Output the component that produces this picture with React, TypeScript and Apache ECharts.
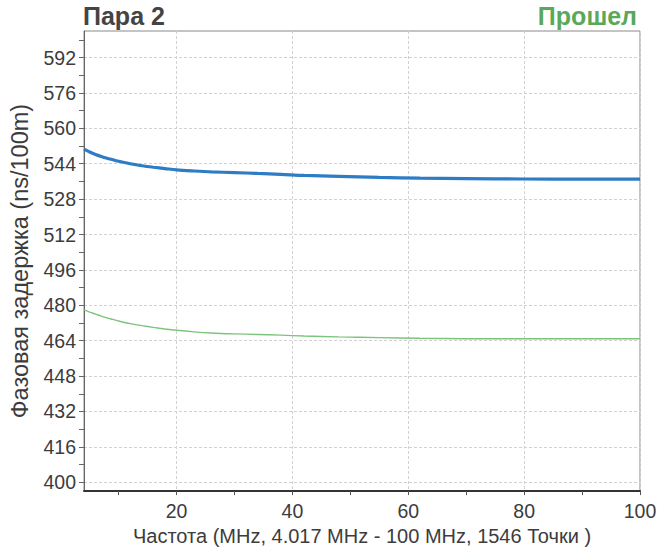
import React, { useEffect, useRef } from "react";
import * as echarts from "echarts";

const frequencies = [4.017, 5, 6, 7, 8, 9, 10, 12, 14, 16, 18, 20, 23, 26, 30, 34, 38, 42, 48, 55, 62, 70, 80, 90, 100];
const delayMeasured = [550.6, 549.3, 548.2, 547.3, 546.5, 545.8, 545.1, 544.0, 543.1, 542.4, 541.8, 541.2, 540.7, 540.3, 540.0, 539.6, 539.2, 538.7, 538.3, 537.8, 537.5, 537.3, 537.1, 537.0, 537.0];
const delayLimit = [477.9, 476.9, 476.0, 475.1, 474.3, 473.6, 472.9, 471.7, 470.8, 470.0, 469.3, 468.7, 468.0, 467.5, 467.1, 466.8, 466.5, 466.1, 465.7, 465.4, 465.1, 464.9, 464.9, 464.9, 464.9];

const yLabelValues = [400, 416, 432, 448, 464, 480, 496, 512, 528, 544, 560, 576, 592];
const yTickValues = [400, 408, 416, 424, 432, 440, 448, 456, 464, 472, 480, 488, 496, 504, 512, 520, 528, 536, 544, 552, 560, 568, 576, 584, 592, 600];
const xLabelValues = [20, 40, 60, 80, 100];
const xTickValues = [10, 20, 30, 40, 50, 60, 70, 80, 90, 100];

const titleText = "Пара 2";
const statusText = "Прошел";
const xName = "Частота (MHz, 4.017 MHz - 100 MHz, 1546 Точки )";
const yName = "Фазовая задержка (ns/100m)";

const FONT = "Liberation Sans, Arial, sans-serif";
const TXT = "#3c3c3c";

export default function App() {
  const ref = useRef<HTMLDivElement>(null);
  useEffect(() => {
    if (!ref.current) return;
    const chart = echarts.init(ref.current, undefined, { renderer: "svg" });
    const gridLine = { show: true, lineStyle: { color: "#d2d2d2", type: [3, 2] as any, width: 1 } };
    const xMin = 4.017, xMax = 100, yMin = 396, yMax = 604;
    chart.setOption({
      animation: false,
      backgroundColor: "#ffffff",
      textStyle: { fontFamily: FONT },
      graphic: [
        { type: "text", left: 83, top: 3, style: { text: titleText, fontSize: 25, fontWeight: "bold", fill: "#444444", fontFamily: FONT } },
        { type: "text", right: 31, top: 3, style: { text: statusText, fontSize: 25, fontWeight: "bold", fill: "#5aa85a", fontFamily: FONT } },
      ],
      grid: { left: 84, right: 28, top: 31, bottom: 55, show: true, borderColor: "#8a8a8a", borderWidth: 1, containLabel: false },
      xAxis: [
        {
          type: "value", min: xMin, max: xMax, position: "bottom",
          axisLine: { show: true, onZero: false, lineStyle: { color: "#333333", width: 2 } },
          axisTick: { show: true, length: 4, customValues: xTickValues, lineStyle: { color: "#555555" } },
          axisLabel: { show: false },
          splitLine: { show: false },
        },
        {
          type: "value", min: xMin, max: xMax, position: "bottom", offset: 0,
          name: xName, nameLocation: "middle", nameGap: 32,
          nameTextStyle: { fontSize: 20, color: TXT, fontFamily: FONT },
          axisLine: { show: false, onZero: false },
          axisTick: { show: false, customValues: xLabelValues },
          axisLabel: { show: true, customValues: xLabelValues, fontSize: 19.5, color: TXT, margin: 10, fontFamily: FONT },
          splitLine: gridLine,
        },
      ],
      yAxis: [
        {
          type: "value", min: yMin, max: yMax, position: "left",
          axisLine: { show: true, onZero: false, lineStyle: { color: "#666666", width: 1 } },
          axisTick: { show: true, length: 5, customValues: yTickValues, lineStyle: { color: "#666666" } },
          axisLabel: { show: false },
          splitLine: { show: false },
        },
        {
          type: "value", min: yMin, max: yMax, position: "left", offset: 0,
          name: yName, nameLocation: "middle", nameGap: 52,
          nameTextStyle: { fontSize: 23.5, color: TXT, fontFamily: FONT },
          axisLine: { show: false, onZero: false },
          axisTick: { show: false, customValues: yLabelValues },
          axisLabel: { show: true, customValues: yLabelValues, fontSize: 19.5, color: TXT, margin: 8, fontFamily: FONT },
          splitLine: gridLine,
        },
      ],
      series: [
        {
          type: "line", xAxisIndex: 0, yAxisIndex: 0, showSymbol: false, smooth: 0.3,
          data: frequencies.map((f, i) => [f, delayMeasured[i]]),
          lineStyle: { color: "#2d7cc4", width: 3.2 },
          itemStyle: { color: "#2d7cc4" },
        },
        {
          type: "line", xAxisIndex: 0, yAxisIndex: 0, showSymbol: false, smooth: 0.3,
          data: frequencies.map((f, i) => [f, delayLimit[i]]),
          lineStyle: { color: "#7cc47c", width: 1.4 },
          itemStyle: { color: "#7cc47c" },
        },
      ],
    });
    return () => chart.dispose();
  }, []);
  return <div ref={ref} style={{ width: 668, height: 551, position: "absolute", left: 0, top: 0 }} />;
}
